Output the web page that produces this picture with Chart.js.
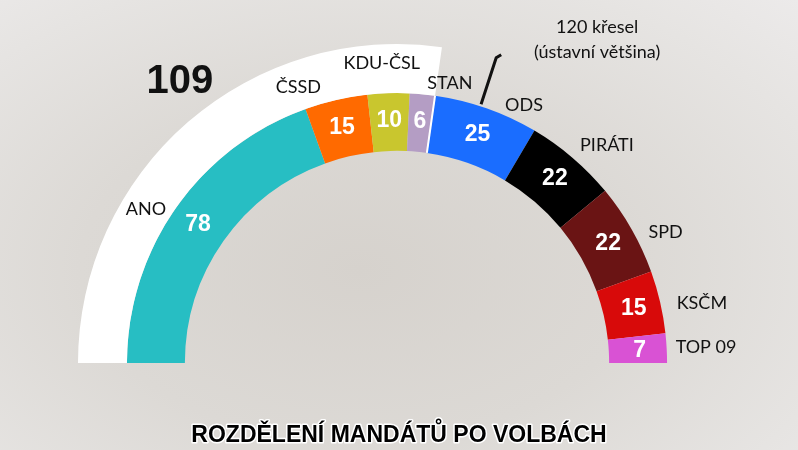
<!DOCTYPE html>
<html>
<head>
<meta charset="utf-8">
<script src="https://cdn.jsdelivr.net/npm/chart.js@4"></script>
<style>
    html, body { margin: 0; padding: 0; }
    body {
        width: 798px; height: 450px; overflow: hidden;
        background: radial-gradient(ellipse at 45% 60%, #d6d2cd 0%, #dcd9d5 45%, #e6e4e2 80%, #eceaea 100%);
    }
    #wrap { position: relative; width: 798px; height: 450px; }
</style>
</head>
<body>
<div id="wrap"><canvas id="seatChart"></canvas></div>
<script>
const parties     = ['ANO', 'ČSSD', 'KDU-ČSL', 'STAN', 'ODS', 'PIRÁTI', 'SPD', 'KSČM', 'TOP 09'];
const seats       = [78, 15, 10, 6, 25, 22, 22, 15, 7];
const partyColors = ['#27bec3', '#ff6a00', '#c9c62e', '#b49dc4', '#1a6dff', '#000000', '#6a1414', '#d80a0a', '#d952d4'];
const totalSeats  = 200;
const blocSeats   = 109;
const majority    = 120;
const titleText   = 'ROZDĚLENÍ MANDÁTŮ PO VOLBÁCH';
const majorityText = ['120 křesel', '(ústavní většina)'];

// where the party names sit: [angle from the left in degrees, radius / outer radius]
const namePolar = [
    [31.5, 0.923], [70.3, 0.918], [87.1, 0.942], [100.7, 0.893], [116.2, 0.902],
    [133.9, 0.949], [154, 0.937], [168.9, 0.974], [177, 0.97]
];

const ctx = document.getElementById('seatChart');

const seatLabels = {
    id: 'seatLabels',
    afterDatasetsDraw(chart) {
        const c = chart.ctx;
        const bloc = chart.getDatasetMeta(0).data[0];
        const arcs = chart.getDatasetMeta(1).data;
        const cx = arcs[0].x, cy = arcs[0].y;
        const rOut = bloc.outerRadius;
        const polar = (deg, r) => {
            const a = Math.PI + deg * Math.PI / 180;
            return [cx + Math.cos(a) * r, cy + Math.sin(a) * r];
        };

        c.save();
        // white cut where the 109 bloc ends
        const cut = bloc.endAngle;
        c.strokeStyle = '#ffffff';
        c.lineWidth = 2;
        c.beginPath();
        c.moveTo(cx + Math.cos(cut) * arcs[0].innerRadius, cy + Math.sin(cut) * arcs[0].innerRadius);
        c.lineTo(cx + Math.cos(cut) * arcs[0].outerRadius, cy + Math.sin(cut) * arcs[0].outerRadius);
        c.stroke();

        // seat counts inside the arcs
        c.fillStyle = '#ffffff';
        c.font = 'bold 23px "Liberation Sans", Arial, sans-serif';
        c.textAlign = 'center';
        c.textBaseline = 'middle';
        arcs.forEach((arc, i) => {
            const mid = (arc.startAngle + arc.endAngle) / 2;
            const r = (arc.innerRadius + arc.outerRadius) / 2 + 2;
            c.fillText(String(seats[i]), cx + Math.cos(mid) * r, cy + Math.sin(mid) * r + 1);
        });

        // party names
        c.fillStyle = '#111111';
        c.font = '18px Lato, "Open Sans", sans-serif';
        parties.forEach((name, i) => {
            const p = polar(namePolar[i][0], namePolar[i][1] * rOut);
            c.fillText(name, p[0], p[1]);
        });

        // bloc total
        c.font = 'bold 40px "Liberation Sans", Arial, sans-serif';
        const pb = polar(52.3, rOut * 1.113);
        c.fillText(String(blocSeats), pb[0], pb[1]);

        // constitutional majority marker
        const ma = Math.PI + majority / totalSeats * Math.PI;
        const r0 = arcs[0].outerRadius + 2, r1 = rOut + 2;
        const x1 = cx + Math.cos(ma) * r1, y1 = cy + Math.sin(ma) * r1;
        c.strokeStyle = '#111111';
        c.lineWidth = 3;
        c.beginPath();
        c.moveTo(cx + Math.cos(ma) * r0, cy + Math.sin(ma) * r0);
        c.lineTo(x1, y1);
        c.lineTo(x1 + 5, y1 - 3);
        c.stroke();
        c.font = '18px Lato, "Open Sans", sans-serif';
        c.fillText(majorityText[0], x1 + 101, y1 - 31);
        c.fillText(majorityText[1], x1 + 101, y1 - 6);

        // title with white outline
        c.font = 'bold 23px "Liberation Sans", Arial, sans-serif';
        c.lineWidth = 3;
        c.lineJoin = 'round';
        c.strokeStyle = '#ffffff';
        c.strokeText(titleText, chart.width / 2, 436);
        c.fillStyle = '#000000';
        c.fillText(titleText, chart.width / 2, 436);
        c.restore();
    }
};

new Chart(ctx, {
    type: 'doughnut',
    data: {
        labels: parties,
        datasets: [
            {
                data           : [blocSeats, totalSeats - blocSeats],
                backgroundColor: ['#ffffff', 'rgba(0,0,0,0)'],
                borderWidth    : 0,
                weight         : 49
            },
            {
                data           : seats,
                backgroundColor: partyColors,
                borderWidth    : 0,
                weight         : 58
            }
        ]
    },
    options: {
        responsive         : true,
        maintainAspectRatio: false,
        animation          : false,
        rotation           : -90,
        circumference      : 180,
        cutout             : '66.5%',
        hoverOffset        : 0,
        layout             : { padding: { left: 78, right: 82, top: 44, bottom: 87 } },
        plugins: {
            legend : { display: false },
            tooltip: { enabled: false }
        }
    },
    plugins: [seatLabels]
});
</script>
</body>
</html>
